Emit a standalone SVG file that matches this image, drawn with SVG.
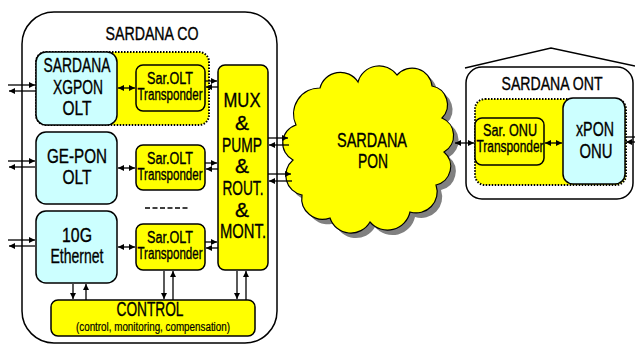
<svg xmlns="http://www.w3.org/2000/svg" width="635" height="345" viewBox="0 0 635 345">
<style>
text{font-family:"Liberation Sans",Arial,sans-serif;fill:#000;stroke:#000;stroke-width:0.35;text-anchor:middle}
.big{font-size:20px}
.ttl{font-size:18px}
.mid{font-size:16px}
.mux{font-size:21px}
.sm{font-size:12px;stroke-width:0.2}
.cyan{fill:#CCFFFF;stroke:#000;stroke-width:1.5}
.yel{fill:#FFFF00;stroke:#000;stroke-width:1.5}
.dot{fill:#FFFF00;stroke:#000;stroke-width:2;stroke-dasharray:1.5 1.5}
.frame{fill:#fff;stroke:#000;stroke-width:1.5}
.ln{stroke:#000;stroke-width:1.3;fill:none}
.a{marker-end:url(#ah)}
.d{marker-end:url(#ah);marker-start:url(#ahs)}
</style>
<defs>
<marker id="ah" viewBox="0 0 6 6" refX="6" refY="3" markerWidth="6" markerHeight="6" markerUnits="userSpaceOnUse" orient="auto"><path d="M0,0 L6,3 L0,6 Z" fill="#000"/></marker>
<marker id="ahs" viewBox="0 0 6 6" refX="0" refY="3" markerWidth="6" markerHeight="6" markerUnits="userSpaceOnUse" orient="auto"><path d="M6,0 L0,3 L6,6 Z" fill="#000"/></marker>
</defs>

<g id="sardana-co">
<rect class="frame" x="22" y="12" width="255" height="331" rx="32"/>
<text class="ttl" x="152" y="40" textLength="93" lengthAdjust="spacingAndGlyphs">SARDANA CO</text>
</g>

<g id="xgpon-group">
<rect class="dot" x="36" y="52" width="173" height="73" rx="10"/>
</g>
<g id="xgpon-olt">
<rect class="cyan" x="36" y="52" width="81" height="73" rx="10"/>
<text class="big" x="77" y="72" textLength="67" lengthAdjust="spacingAndGlyphs">SARDANA</text>
<text class="big" x="78" y="94" textLength="50" lengthAdjust="spacingAndGlyphs">XGPON</text>
<text class="big" x="77" y="115" textLength="29" lengthAdjust="spacingAndGlyphs">OLT</text>
</g>
<g id="transponder1">
<rect class="yel" x="136" y="65" width="69" height="46" rx="7"/>
<text class="mid" x="170" y="84" textLength="46" lengthAdjust="spacingAndGlyphs">Sar.OLT</text>
<text class="mid" x="170" y="100" textLength="65" lengthAdjust="spacingAndGlyphs">Transponder</text>
</g>

<g id="gepon-olt">
<rect class="cyan" x="36" y="132" width="81" height="72" rx="10"/>
<text class="big" x="77" y="163" textLength="60" lengthAdjust="spacingAndGlyphs">GE-PON</text>
<text class="big" x="77" y="184" textLength="29" lengthAdjust="spacingAndGlyphs">OLT</text>
</g>
<g id="transponder2">
<rect class="yel" x="136" y="145" width="69" height="45" rx="7"/>
<text class="mid" x="170" y="164" textLength="46" lengthAdjust="spacingAndGlyphs">Sar.OLT</text>
<text class="mid" x="170" y="180" textLength="65" lengthAdjust="spacingAndGlyphs">Transponder</text>
</g>

<g id="dots">
<path class="ln" d="M145,208h5M152.5,208h5M160,208h5M167.5,208h5M175,208h5M182.5,208h5" stroke-width="2"/>
</g>

<g id="eth-10g">
<rect class="cyan" x="36" y="211" width="81" height="72" rx="10"/>
<text class="big" x="77" y="242" textLength="30" lengthAdjust="spacingAndGlyphs">10G</text>
<text class="big" x="77" y="263" textLength="53" lengthAdjust="spacingAndGlyphs">Ethernet</text>
</g>
<g id="transponder3">
<rect class="yel" x="136" y="224" width="69" height="46" rx="7"/>
<text class="mid" x="170" y="243" textLength="46" lengthAdjust="spacingAndGlyphs">Sar.OLT</text>
<text class="mid" x="170" y="259" textLength="65" lengthAdjust="spacingAndGlyphs">Transponder</text>
</g>

<g id="mux">
<rect class="yel" x="218" y="65" width="50" height="205" rx="7"/>
<text class="mux" x="242" y="107" textLength="37" lengthAdjust="spacingAndGlyphs">MUX</text>
<text class="mux" x="242" y="130">&amp;</text>
<text class="mux" x="242" y="152" textLength="40" lengthAdjust="spacingAndGlyphs">PUMP</text>
<text class="mux" x="242" y="173">&amp;</text>
<text class="mux" x="243" y="195" textLength="41" lengthAdjust="spacingAndGlyphs">ROUT.</text>
<text class="mux" x="242" y="217">&amp;</text>
<text class="mux" x="243" y="238" textLength="46" lengthAdjust="spacingAndGlyphs">MONT.</text>
</g>

<g id="control">
<rect class="yel" x="51" y="300" width="204" height="36" rx="7"/>
<text class="big" x="150" y="316" textLength="67" lengthAdjust="spacingAndGlyphs">CONTROL</text>
<text class="sm" x="153" y="331" textLength="154" lengthAdjust="spacingAndGlyphs">(control, monitoring, compensation)</text>
</g>

<g id="sardana-pon">
<path transform="translate(5,5)" fill="#808080" d="M296,125 A26,26 0 0 1 320,88 A21,21 0 0 1 358,82 A22,22 0 0 1 397,75 A20,20 0 0 1 432,86 A19,19 0 0 1 442,118 A19,19 0 0 1 444,152 A19,19 0 0 1 436,185 A21,21 0 0 1 410,212 A23,23 0 0 1 370,222 A22,22 0 0 1 330,218 A21,21 0 0 1 302,195 A20,20 0 0 1 293,160 A19,19 0 0 1 296,125 Z"/>
<path fill="#FFFF00" stroke="#000" stroke-width="1.2" d="M296,125 A26,26 0 0 1 320,88 A21,21 0 0 1 358,82 A22,22 0 0 1 397,75 A20,20 0 0 1 432,86 A19,19 0 0 1 442,118 A19,19 0 0 1 444,152 A19,19 0 0 1 436,185 A21,21 0 0 1 410,212 A23,23 0 0 1 370,222 A22,22 0 0 1 330,218 A21,21 0 0 1 302,195 A20,20 0 0 1 293,160 A19,19 0 0 1 296,125 Z"/>
<text class="big" x="372" y="147" textLength="70" lengthAdjust="spacingAndGlyphs">SARDANA</text>
<text class="big" x="373" y="168" textLength="30" lengthAdjust="spacingAndGlyphs">PON</text>
</g>

<g id="sardana-ont">
<polyline class="ln" points="465,68 551,48 635,66"/>
<rect class="frame" x="466" y="67" width="167" height="132" rx="16"/>
<text class="ttl" x="552" y="90" textLength="101" lengthAdjust="spacingAndGlyphs">SARDANA ONT</text>
<rect class="dot" x="475" y="99" width="151" height="86" rx="10"/>
</g>
<g id="onu-transponder">
<rect class="yel" x="475" y="118" width="69" height="47" rx="7"/>
<text class="mid" x="510" y="136" textLength="54" lengthAdjust="spacingAndGlyphs">Sar. ONU</text>
<text class="mid" x="510" y="152" textLength="67" lengthAdjust="spacingAndGlyphs">Transponder</text>
</g>
<g id="xpon-onu">
<rect class="cyan" x="563" y="98" width="62" height="86" rx="10"/>
<text class="big" x="595" y="136" textLength="38" lengthAdjust="spacingAndGlyphs">xPON</text>
<text class="big" x="596" y="158" textLength="33" lengthAdjust="spacingAndGlyphs">ONU</text>
</g>

<g id="connectors">
<line class="ln a" x1="8" y1="85" x2="35" y2="85"/>
<line class="ln a" x1="35" y1="91" x2="9" y2="91"/>
<line class="ln a" x1="8" y1="161" x2="35" y2="161"/>
<line class="ln a" x1="35" y1="167" x2="9" y2="167"/>
<line class="ln a" x1="8" y1="240" x2="35" y2="240"/>
<line class="ln a" x1="35" y1="246" x2="9" y2="246"/>
<line class="ln d" x1="118" y1="88" x2="135" y2="88"/>
<line class="ln d" x1="118" y1="168" x2="135" y2="168"/>
<line class="ln d" x1="118" y1="247" x2="135" y2="247"/>
<line class="ln a" x1="205" y1="81" x2="217" y2="81"/>
<line class="ln a" x1="218" y1="87" x2="206" y2="87"/>
<line class="ln a" x1="205" y1="163" x2="217" y2="163"/>
<line class="ln a" x1="218" y1="169" x2="206" y2="169"/>
<line class="ln a" x1="205" y1="242" x2="217" y2="242"/>
<line class="ln a" x1="218" y1="248" x2="206" y2="248"/>
<line class="ln a" x1="268" y1="138" x2="288" y2="138"/>
<line class="ln a" x1="289" y1="145" x2="269" y2="145"/>
<line class="ln a" x1="268" y1="174" x2="291" y2="174"/>
<line class="ln a" x1="292" y1="181" x2="269" y2="181"/>
<line class="ln a" x1="73" y1="284" x2="73" y2="299"/>
<line class="ln a" x1="86" y1="300" x2="86" y2="284"/>
<line class="ln a" x1="164" y1="271" x2="164" y2="299"/>
<line class="ln a" x1="173" y1="300" x2="173" y2="271"/>
<line class="ln a" x1="237" y1="271" x2="237" y2="299"/>
<line class="ln a" x1="246" y1="300" x2="246" y2="271"/>
<line class="ln d" x1="455" y1="143" x2="474" y2="143"/>
<line class="ln d" x1="545" y1="143" x2="562" y2="143"/>
<line class="ln" x1="626" y1="137" x2="635" y2="137"/>
<line class="ln a" x1="635" y1="142" x2="626" y2="142"/>
</g>
</svg>
